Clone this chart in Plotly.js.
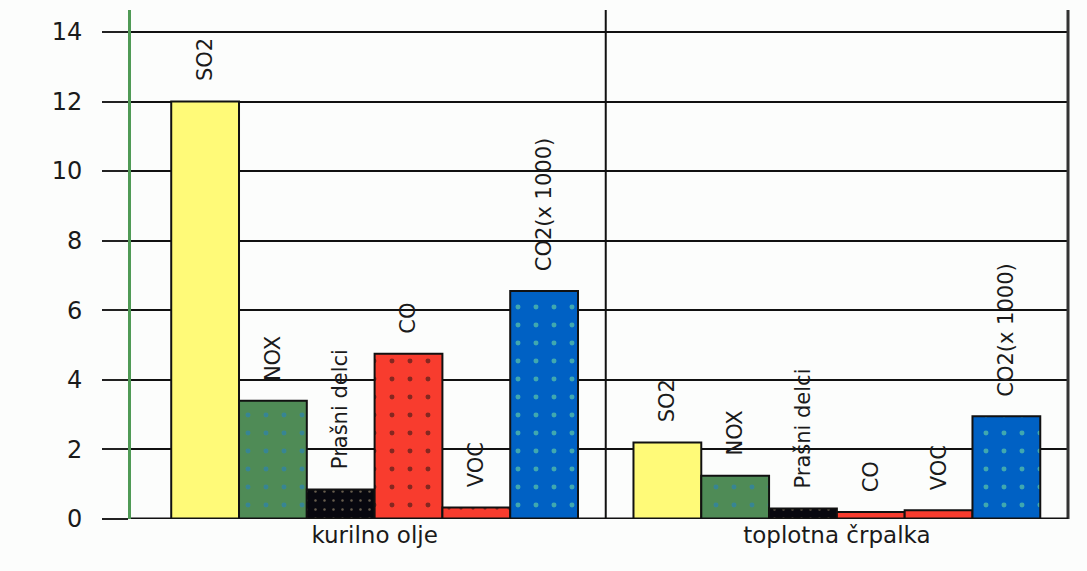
<!DOCTYPE html>
<html>
<head>
<meta charset="utf-8">
<script src="https://cdn.plot.ly/plotly-3.0.1.min.js"></script>
<style>html,body{margin:0;padding:0;background:#fcfdfc;}#chart{width:1087px;height:571px;}</style>
</head>
<body>
<div id="chart"></div>
<script>
const categories = ['kurilno olje', 'toplotna črpalka'];
const pollutants = ['SO2', 'NOX', 'Prašni delci', 'CO', 'VOC', 'CO2(x 1000)'];
const so2 = [12.0, 2.2];
const nox = [3.4, 1.24];
const prasniDelci = [0.85, 0.3];
const co = [4.75, 0.2];
const voc = [0.33, 0.25];
const co2 = [6.55, 2.95];
const yTicks = [0, 2, 4, 6, 8, 10, 12, 14];

const seriesValues = [so2, nox, prasniDelci, co, voc, co2];
const fills = ['#fffa78', '#4f8b56', '#08080f', '#f83c2e', '#f83c2e', '#0061c4'];
const dots = [null, '#1f7fd0', '#c8b48c', '#111111', '#111111', '#7ff09a'];
const dotSize = [18, 18, 9, 18, 12, 18];
const bargap = 0.12;

const traces = seriesValues.map((vals, i) => {
  const m = {color: fills[i], line: {color: '#111', width: 2}};
  if (dots[i]) m.pattern = {shape: '.', fgcolor: dots[i], bgcolor: fills[i], size: dotSize[i], solidity: 0.06, fillmode: 'overlay'};
  return {type: 'bar', x: categories, y: vals, name: pollutants[i], marker: m, hoverinfo: 'skip'};
});

const n = pollutants.length;
const bw = (1 - bargap) / n;
const annotations = [];
seriesValues.forEach((vals, i) => {
  vals.forEach((v, c) => {
    annotations.push({
      x: c + (i - (n - 1) / 2) * bw, y: v, xref: 'x', yref: 'y',
      text: pollutants[i], textangle: -90, showarrow: false,
      xanchor: 'center', yanchor: 'bottom', yshift: 18,
      font: {family: 'DejaVu Sans', size: 21, color: '#1a1a1a'}
    });
  });
});

const layout = {
  width: 1087, height: 571,
  margin: {l: 131, r: 19, t: 10, b: 52},
  paper_bgcolor: '#fcfdfc', plot_bgcolor: '#fcfdfc',
  showlegend: false,
  barmode: 'group', bargap: bargap, bargroupgap: 0,
  xaxis: {
    type: 'category', range: [-0.527, 1.5],
    showgrid: false, zeroline: false, showline: false, ticks: '',
    tickfont: {family: 'DejaVu Sans', size: 23, color: '#1a1a1a'}
  },
  yaxis: {
    range: [0, 14.63], tickvals: yTicks, ticktext: yTicks.map(String),
    showgrid: true, gridcolor: '#111', gridwidth: 2,
    zeroline: false, showline: true, linecolor: '#4f9a55', linewidth: 3,
    ticks: 'outside', ticklen: 26, tickwidth: 2, tickcolor: '#222',
    ticklabelstandoff: 15,
    tickfont: {family: 'DejaVu Sans', size: 24, color: '#1a1a1a'}
  },
  shapes: [
    {type: 'line', xref: 'x', yref: 'paper', x0: 0.5, x1: 0.5, y0: 0, y1: 1, line: {color: '#111', width: 2}},
    {type: 'line', xref: 'paper', yref: 'paper', x0: 1, x1: 1, y0: 0, y1: 1, line: {color: '#333', width: 3}},
    {type: 'line', xref: 'paper', yref: 'y', x0: 0, x1: 1, y0: 0, y1: 0, line: {color: '#111', width: 3}}
  ],
  annotations: annotations
};

Plotly.newPlot('chart', traces, layout, {displayModeBar: false, staticPlot: true});
</script>
</body>
</html>
